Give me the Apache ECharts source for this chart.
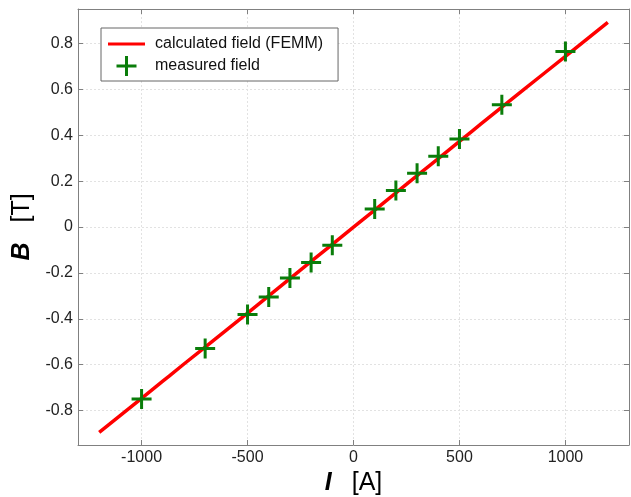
<!DOCTYPE html>
<html>
<head>
<meta charset="utf-8">
<script src="https://cdn.jsdelivr.net/npm/echarts@6/dist/echarts.min.js"></script>
<style>
html,body{margin:0;padding:0;background:#fff;}
#chart{width:631px;height:497px;}
</style>
</head>
<body>
<div id="chart"></div>
<script>
// Calculated field (FEMM): current [A] and field [T]
const calcCurrent = [-1200,-1100,-1000,-900,-870,-800,-700,-600,-500,-400,-300,-200,-100,0,100,200,300,400,500,560,600,700,800,900,1000,1100,1200];
const calcField   = [-0.895,-0.821,-0.747,-0.672,-0.650,-0.597,-0.523,-0.449,-0.375,-0.300,-0.225,-0.150,-0.076,-0.001,0.074,0.149,0.224,0.298,0.373,0.418,0.448,0.522,0.596,0.670,0.744,0.818,0.892];
// Measured field
const measCurrent = [-1000,-700,-500,-400,-300,-200,-100,100,200,300,400,500,700,1000];
const measField   = [-0.750,-0.530,-0.381,-0.305,-0.222,-0.155,-0.079,0.078,0.159,0.234,0.308,0.384,0.533,0.765];
// Tick labels
const xTicks = [-1000,-500,0,500,1000];
const yTicks = [-0.8,-0.6,-0.4,-0.2,0,0.2,0.4,0.6,0.8];

const calcData = calcCurrent.map((c,i)=>[c,calcField[i]]);
const measData = measCurrent.map((c,i)=>[c,measField[i]]);

const font = 'Liberation Sans, Arial, sans-serif';
const axisColor = '#808080';
const plus = 'path://M-1.5,-10 H1.5 V-1.5 H10 V1.5 H1.5 V10 H-1.5 V1.5 H-10 V-1.5 H-1.5 Z';
const lineIcon = 'path://M0,0 H37 V3 H0 Z';

function xAxisCfg(pos, labels){
  return {
    type:'value', position:pos, min:-1300, max:1300,
    axisLine:{show:true, onZero:false, lineStyle:{color:axisColor, width:1}},
    axisTick:{show:true, inside:true, length:5, customValues:xTicks, lineStyle:{color:axisColor}},
    axisLabel:{show:labels, customValues:xTicks, margin:5, fontFamily:font, fontSize:16, color:'#222',
      formatter:v=>String(Math.round(v))},
    splitLine:{show:labels, lineStyle:{color:'#e2e2e2', type:[2,2]}},
  };
}
function yAxisCfg(pos, labels){
  return {
    type:'value', position:pos, min:-0.95, max:0.95,
    axisLine:{show:true, onZero:false, lineStyle:{color:axisColor, width:1}},
    axisTick:{show:true, inside:true, length:5, customValues:yTicks, lineStyle:{color:axisColor}},
    axisLabel:{show:labels, customValues:yTicks, margin:5, fontFamily:font, fontSize:16, color:'#222',
      formatter:v=>{const r=Math.round(v*10)/10; return r===0?'0':r.toFixed(1);}},
    splitLine:{show:labels, lineStyle:{color:'#e2e2e2', type:[2,2]}},
  };
}

const nameRich = {b:{fontFamily:font,fontSize:25,fontWeight:'bold',fontStyle:'italic',color:'#000'},
                  n:{fontFamily:font,fontSize:25,color:'#000'}};
const xa = xAxisCfg('bottom', true);
xa.name = '{b|I}      {n|[A]}';
xa.nameLocation = 'middle';
xa.nameGap = 25;
xa.nameTextStyle = {rich:nameRich};
const ya = yAxisCfg('left', true);
ya.name = '{b|B}      {n|[T]}';
ya.nameLocation = 'middle';
ya.nameRotate = 90;
ya.nameGap = 40;
ya.nameTextStyle = {rich:nameRich};

const chart = echarts.init(document.getElementById('chart'), null, {renderer:'canvas'});
chart.setOption({
  animation:false,
  backgroundColor:'#fff',
  grid:{left:78, right:2, top:9, bottom:52, containLabel:false, outerBoundsMode:'none'},
  xAxis:[xa, xAxisCfg('top', false)],
  yAxis:[ya, yAxisCfg('right', false)],
  legend:{
    orient:'vertical', left:101, top:28,
    backgroundColor:'#fff', borderColor:'#666', borderWidth:1,
    padding:[8,15,5,7], itemGap:4, itemWidth:37, itemHeight:20,
    textStyle:{fontFamily:font, fontSize:16, color:'#111', padding:[0,0,0,5]},
    data:[{name:'calculated field (FEMM)', icon:lineIcon},{name:'measured field', icon:plus}]
  },
  series:[
    {name:'calculated field (FEMM)', type:'line', data:calcData, xAxisIndex:0, yAxisIndex:0,
     showSymbol:false, symbol:'none', lineStyle:{color:'#ff0000', width:3.5}, itemStyle:{color:'#ff0000'}, z:2},
    {name:'measured field', type:'scatter', data:measData, xAxisIndex:0, yAxisIndex:0,
     symbol:plus, symbolSize:20, itemStyle:{color:'#0a7d0a', opacity:1}, z:3}
  ]
});
</script>
</body>
</html>
